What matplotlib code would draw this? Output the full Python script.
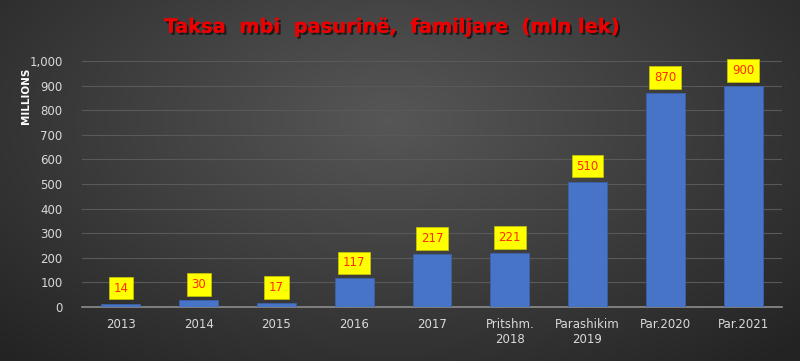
import numpy as np
import matplotlib
matplotlib.use("Agg")
import matplotlib.pyplot as plt
from matplotlib.ticker import FuncFormatter
import matplotlib.patheffects as pe

# =====================================================================
# Data
# =====================================================================
categories = ["2013", "2014", "2015", "2016", "2017",
              "Pritshm.\n2018", "Parashikim\n2019", "Par.2020", "Par.2021"]
values = [14, 30, 17, 117, 217, 221, 510, 870, 900]
title_text = "Taksa  mbi  pasurinë,  familjare  (mln lek)"
y_ticks = [0, 100, 200, 300, 400, 500, 600, 700, 800, 900, 1000]

# =====================================================================
# Figure + background gradient
# =====================================================================
fig = plt.figure(figsize=(8, 3.61), dpi=100)

bg = fig.add_axes([0, 0, 1, 1], zorder=-10)
yy, xx = np.mgrid[0:361, 0:800]
r = np.sqrt(((xx - 390) / 560.0) ** 2 + ((yy - 120) / 320.0) ** 2)
shade = np.clip(0.34 - 0.2 * r, 0.14, 0.36)
bg.imshow(np.dstack([shade, shade, shade]), aspect="auto",
          extent=[0, 1, 0, 1], origin="upper")
bg.axis("off")

ax = fig.add_axes([0.1025, 0.1496, 0.875, 0.6814])
ax.set_facecolor("none")

x = np.arange(len(categories))
ax.bar(x, values, width=0.5, color="#4874c8", edgecolor="#3b61a8",
       linewidth=0.6, zorder=3)

for xi, v in zip(x, values):
    ax.annotate(f"{v}", (xi, v), xytext=(0, 11), textcoords="offset points",
                ha="center", va="center", fontsize=8.5, color="#ff2a00",
                bbox=dict(boxstyle="square,pad=0.4", fc="#ffff00",
                          ec="#c8c800", lw=0.5),
                zorder=5, annotation_clip=False)

ax.set_xlim(-0.5, len(categories) - 0.5)
ax.set_ylim(0, 1000)
ax.set_yticks(y_ticks)
ax.yaxis.set_major_formatter(FuncFormatter(lambda v, p: f"{int(v):,}"))
ax.set_xticks(x)
ax.set_xticklabels(categories)

ax.grid(axis="y", color="#595959", linewidth=0.8, zorder=0)
ax.grid(axis="x", visible=False)
ax.tick_params(axis="both", length=0, colors="#d9d9d9", labelsize=8.5)
ax.tick_params(axis="y", pad=14)
ax.tick_params(axis="x", pad=8)
for side in ["top", "right", "left"]:
    ax.spines[side].set_visible(False)
ax.spines["bottom"].set_color("#8c8c8c")
ax.spines["bottom"].set_linewidth(1.2)

fig.text(0.032, 0.735, "MILLIONS", rotation=90, ha="center", va="center",
         color="white", fontsize=7.5, fontweight="bold")

fig.text(0.49, 0.925, title_text, ha="center", va="center",
         color="#ee0000", fontsize=14, fontweight="bold",
         path_effects=[pe.withSimplePatchShadow(offset=(1.5, -1.5),
                                                shadow_rgbFace="black",
                                                alpha=0.6), pe.Normal()])

fig.savefig("out.png", dpi=100)
